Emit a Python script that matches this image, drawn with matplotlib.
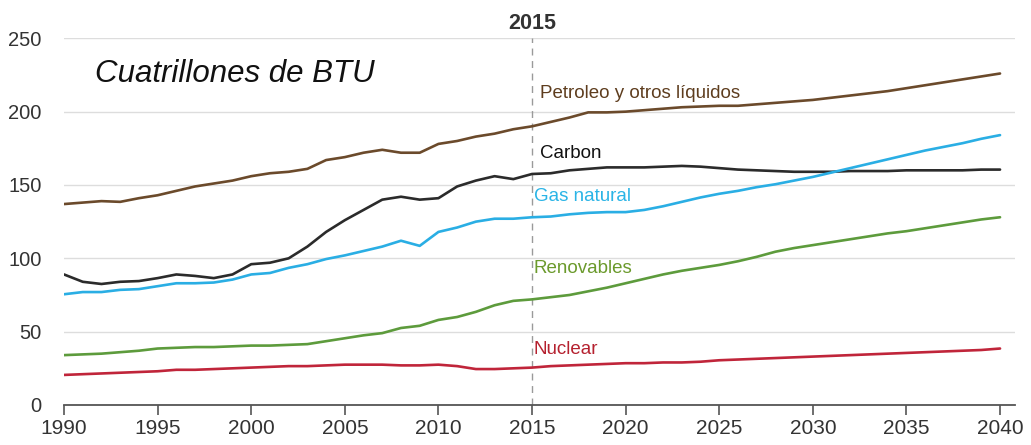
import numpy as np
import matplotlib.pyplot as plt

# ---------- datos (cuatrillones de BTU) ----------
years = np.arange(1990, 2041)

petroleo = [137, 138, 139, 138.5, 141, 143, 146, 149, 151, 153,
            156, 158, 159, 161, 167, 169, 172, 174, 172, 172,
            178, 180, 183, 185, 188, 190, 193, 196, 199.5, 199.5,
            200, 201, 202, 203, 203.5, 204, 204, 205, 206, 207,
            208, 209.5, 211, 212.5, 214, 216, 218, 220, 222, 224,
            226]
carbon = [89, 84, 82.5, 84, 84.5, 86.5, 89, 88, 86.5, 89,
          96, 97, 100, 108, 118, 126, 133, 140, 142, 140,
          141, 149, 153, 156, 154, 157.5, 158, 160, 161, 162,
          162, 162, 162.5, 163, 162.5, 161.5, 160.5, 160, 159.5, 159,
          159, 159, 159.5, 159.5, 159.5, 160, 160, 160, 160, 160.5,
          160.5]
gas = [75.5, 77, 77, 78.5, 79, 81, 83, 83, 83.5, 85.5,
       89, 90, 93.5, 96, 99.5, 102, 105, 108, 112, 108.5,
       118, 121, 125, 127, 127, 128, 128.5, 130, 131, 131.5,
       131.5, 133, 135.5, 138.5, 141.5, 144, 146, 148.5, 150.5, 153,
       155.5, 158.5, 161.5, 164.5, 167.5, 170.5, 173.5, 176, 178.5, 181.5,
       184]
renovables = [34, 34.5, 35, 36, 37, 38.5, 39, 39.5, 39.5, 40,
              40.5, 40.5, 41, 41.5, 43.5, 45.5, 47.5, 49, 52.5, 54,
              58, 60, 63.5, 68, 71, 72, 73.5, 75, 77.5, 80,
              83, 86, 89, 91.5, 93.5, 95.5, 98, 101, 104.5, 107,
              109, 111, 113, 115, 117, 118.5, 120.5, 122.5, 124.5, 126.5,
              128]
nuclear = [20.5, 21, 21.5, 22, 22.5, 23, 24, 24, 24.5, 25,
           25.5, 26, 26.5, 26.5, 27, 27.5, 27.5, 27.5, 27, 27,
           27.5, 26.5, 24.5, 24.5, 25, 25.5, 26.5, 27, 27.5, 28,
           28.5, 28.5, 29, 29, 29.5, 30.5, 31, 31.5, 32, 32.5,
           33, 33.5, 34, 34.5, 35, 35.5, 36, 36.5, 37, 37.5,
           38.5]

# (valores, color línea, etiqueta, x etiqueta, y etiqueta, color texto)
series = [
    (petroleo,   '#6b4a2b', 'Petroleo y otros líquidos', 2015.4, 212.5, '#5e3d1e'),
    (carbon,     '#2b2b2b', 'Carbon',                    2015.4, 171.5, '#111111'),
    (gas,        '#2aaee4', 'Gas natural',               2015.1, 142,   '#2ab4e6'),
    (renovables, '#5d9b3c', 'Renovables',                2015.1, 93,    '#6b9a2c'),
    (nuclear,    '#c0253a', 'Nuclear',                   2015.1, 38,    '#b5212f'),
]

plt.rcParams['font.family'] = ['Liberation Sans', 'DejaVu Sans']

fig = plt.figure(figsize=(10.31, 4.45), dpi=100)
ax = fig.add_axes([0.0621, 0.0899, 0.9224, 0.824])

for vals, col, lab, lx, ly, tcol in series:
    ax.plot(years, vals, color=col, lw=1.9, solid_capstyle='round', zorder=3)
    ax.text(lx, ly, lab, color=tcol, fontsize=13.5, va='center', ha='left', zorder=4)

# línea vertical 2015
ax.axvline(2015, color='#9a9a9a', lw=1.0, ls=(0, (5, 4)), zorder=2)
ax.text(2015, 260, '2015', ha='center', va='center', fontsize=15.5,
        fontweight='bold', color='#333333', clip_on=False)

ax.text(1991.65, 226, 'Cuatrillones de BTU', fontsize=22.5, style='italic',
        color='#111111', va='center', ha='left')

ax.set_xlim(1990, 2040.8)
ax.set_ylim(0, 250)
ax.set_yticks(range(0, 251, 50))
ax.set_xticks(range(1990, 2041, 5))
ax.grid(axis='y', color='#dddddd', lw=1.0, zorder=0)
ax.set_axisbelow(True)

for s in ['top', 'right', 'left']:
    ax.spines[s].set_visible(False)
ax.spines['bottom'].set_color('#555555')
ax.spines['bottom'].set_linewidth(1.3)
ax.spines['bottom'].set_zorder(5)

ax.tick_params(axis='y', length=0, pad=16, labelsize=14.5, labelcolor='#333333')
ax.tick_params(axis='x', length=7, width=1.2, color='#555555', pad=3,
               labelsize=15, labelcolor='#333333')

fig.savefig('out.png', dpi=100)
